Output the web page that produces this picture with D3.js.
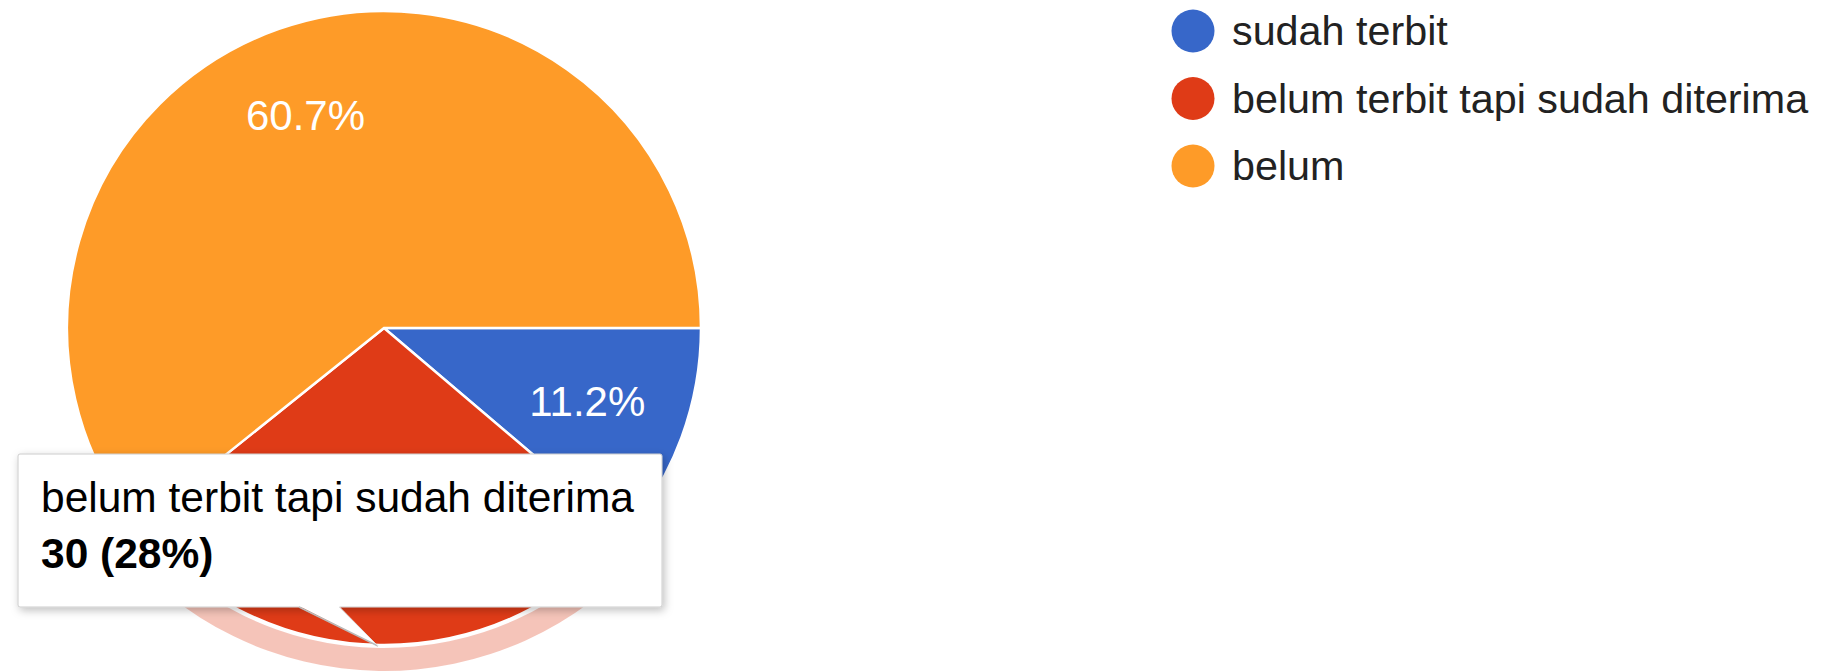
<!DOCTYPE html>
<html>
<head>
<meta charset="utf-8">
<script src="https://cdn.jsdelivr.net/npm/d3@7"></script>
<style>
  body { margin: 0; background: #fff; }
  text { font-family: Arial, "Liberation Sans", sans-serif; }
</style>
</head>
<body>
<script>
// answers from the form
const categories = ["sudah terbit", "belum terbit tapi sudah diterima", "belum"];
const counts = [12, 30, 65];
const colors = ["#3767c9", "#df3b17", "#fe9b28"];
const highlighted = 1; // slice under the mouse in the screenshot

const outerWidth = 1846;
const outerHeight = 672;

const cx = 384, cy = 328;
const radius = 317;

const total = d3.sum(counts);
const data = categories.map((c, i) => ({name: c, value: counts[i], color: colors[i]}));

const svg = d3.select("body").append("svg")
    .attr("width", outerWidth)
    .attr("height", outerHeight);

// shadow for the tooltip box
const defs = svg.append("defs");
const f = defs.append("filter").attr("id", "shadow")
    .attr("x", "-10%").attr("y", "-20%").attr("width", "120%").attr("height", "150%");
f.append("feDropShadow")
    .attr("dx", 2).attr("dy", 3).attr("stdDeviation", 4)
    .attr("flood-color", "#000").attr("flood-opacity", 0.25);

// pie starts at 3 o'clock and goes clockwise
const pie = d3.pie()
    .value(d => d.value)
    .sort(null)
    .startAngle(Math.PI / 2)
    .endAngle(Math.PI / 2 + 2 * Math.PI);

const arcs = pie(data);

const arc = d3.arc().innerRadius(0).outerRadius(radius);
const labelArc = d3.arc().innerRadius(radius * 0.7).outerRadius(radius * 0.7);
const ringArc = d3.arc().innerRadius(radius + 3).outerRadius(radius + 26);

const g = svg.append("g").attr("transform", `translate(${cx},${cy})`);

// hover ring around the highlighted slice
g.append("path")
    .datum(arcs[highlighted])
    .attr("d", ringArc)
    .attr("fill", colors[highlighted])
    .attr("fill-opacity", 0.3);

g.selectAll("path.slice")
    .data(arcs)
    .join("path")
    .attr("class", "slice")
    .attr("d", arc)
    .attr("fill", d => d.data.color)
    .attr("stroke", "#fff")
    .attr("stroke-width", 2.5);

g.selectAll("text.pct")
    .data(arcs)
    .join("text")
    .attr("class", "pct")
    .attr("transform", d => `translate(${labelArc.centroid(d)})`)
    .attr("text-anchor", "middle")
    .attr("dx", -5)
    .attr("dy", "0.28em")
    .attr("fill", "#fff")
    .attr("font-size", 42)
    .text(d => d3.format(".1%")(d.value / total));

// legend
const legend = svg.append("g").attr("transform", "translate(1193,31)");
const rows = legend.selectAll("g")
    .data(data)
    .join("g")
    .attr("transform", (d, i) => `translate(0,${i * 67.5})`);
rows.append("circle")
    .attr("r", 21.5)
    .attr("fill", d => d.color);
rows.append("text")
    .attr("x", 39)
    .attr("y", 14)
    .attr("font-size", 41.3)
    .attr("fill", "#222")
    .text(d => d.name);

// tooltip for the highlighted slice
const tip = data[highlighted];
const tipG = svg.append("g");
const bx = 18, by = 454, bw = 644, bh = 153;
tipG.append("rect")
    .attr("x", bx).attr("y", by)
    .attr("width", bw).attr("height", bh)
    .attr("rx", 2)
    .attr("fill", "#fff")
    .attr("stroke", "#cccccc")
    .attr("stroke-width", 1)
    .attr("filter", "url(#shadow)");
// tail pointing to the slice edge
tipG.append("path")
    .attr("d", `M299,${by + bh - 1} L339,${by + bh - 1} L378,646 Z`)
    .attr("fill", "#fff");
tipG.append("path")
    .attr("d", `M299,${by + bh} L378,646`)
    .attr("stroke", "#bbb")
    .attr("stroke-width", 1.5)
    .attr("fill", "none");
tipG.append("path")
    .attr("d", `M339,${by + bh} L378,646`)
    .attr("stroke", "#e0e0e0")
    .attr("stroke-width", 1)
    .attr("fill", "none");
tipG.append("text")
    .attr("x", 41).attr("y", 512)
    .attr("font-size", 42.5)
    .attr("fill", "#000")
    .text(tip.name);
tipG.append("text")
    .attr("x", 41).attr("y", 568)
    .attr("font-size", 42.5)
    .attr("font-weight", "bold")
    .attr("fill", "#000")
    .text(`${tip.value} (${Math.round(tip.value / total * 100)}%)`);
</script>
</body>
</html>
